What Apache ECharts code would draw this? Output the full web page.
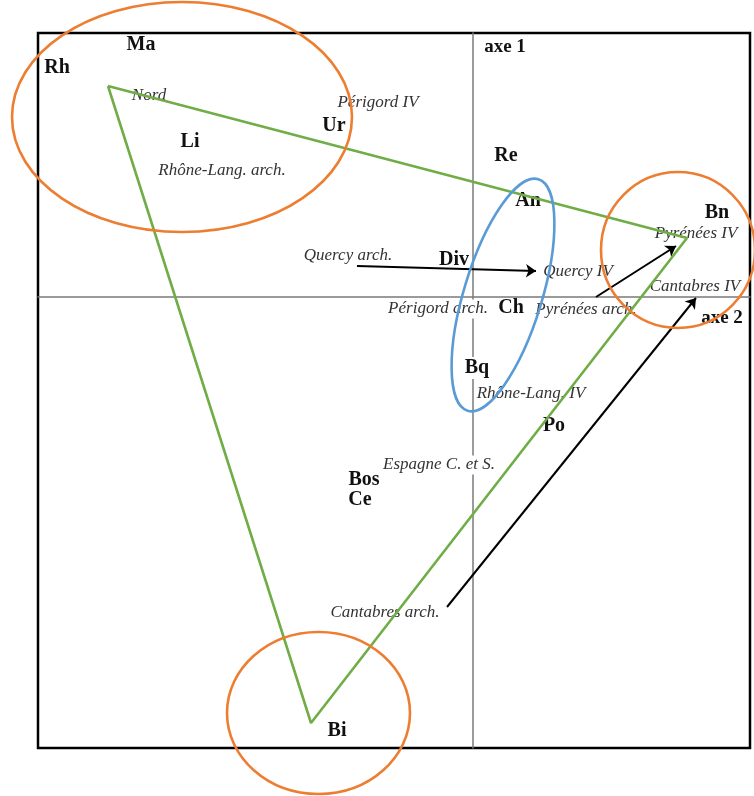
<!DOCTYPE html>
<html>
<head>
<meta charset="utf-8">
<script src="https://cdn.jsdelivr.net/npm/echarts@6/dist/echarts.min.js"></script>
<style>html,body{margin:0;padding:0;background:#fff}#c{width:754px;height:796px}</style>
</head>
<body>
<div id="c"></div>
<script>
// Species (bold) labels
const speciesNames = ['Ma','Rh','Li','Ur','Re','An','Bn','Div','Ch','Bq','Po','Bos','Ce','Bi'];
const speciesX = [-3.32,-4.16,-2.83,-1.39,0.33,0.55,2.44,-0.19,0.38,0.04,0.81,-1.09,-1.13,-1.36];
const speciesY = [2.52,2.29,1.55,1.71,1.41,0.96,0.84,0.37,-0.11,-0.71,-1.29,-1.83,-2.03,-4.34];

// Regions / periods (italic) labels
const regionNames = ['Nord','Périgord IV','Rhône-Lang. arch.','Pyrénées IV','Quercy arch.','Quercy IV','Cantabres IV','Périgord arch.','Pyrénées arch.','Rhône-Lang. IV','Espagne C. et S.','Cantabres arch.'];
const regionX = [-3.24,-0.95,-2.51,2.23,-1.25,1.05,2.22,-0.35,1.13,0.58,-0.34,-0.88];
const regionY = [2.01,1.94,1.26,0.63,0.41,0.25,0.10,-0.12,-0.13,-0.97,-1.68,-3.16];

// Axis titles
const axisNames = ['axe 1','axe 2'];
const axisX = [0.32,2.49];
const axisY = [2.50,-0.21];

// Green triangle vertices
const triX = [-3.65,2.14,-1.62,-3.65];
const triY = [2.11,0.59,-4.26,2.11];

// Arrows: from -> to
const arrowFromX = [-1.16,1.23,-0.26];
const arrowFromY = [0.31,0.00,-3.10];
const arrowToX = [0.63,2.03,2.23];
const arrowToY = [0.26,0.51,-0.01];

// Orange ellipses: center, radii
const orangeCX = [-2.91,2.05,-1.545];
const orangeCY = [1.80,0.47,-4.16];
const orangeRX = [1.70,0.77,0.915];
const orangeRY = [1.15,0.78,0.81];
// Blue ellipse (rotation in degrees, negative = clockwise)
const blueCX = [0.30], blueCY = [0.02], blueRX = [0.39], blueRY = [1.21], blueRot = [-17];

const bgLabels = ['Périgord arch.','Espagne C. et S.','Bq'];

const FONT = 'Liberation Serif';

function ellipseSeries(cx, cy, rx, ry, rot, color){
  return {
    type:'custom', coordinateSystem:'cartesian2d', clip:false, z:4, silent:true,
    encode:{x:0,y:1},
    data: cx.map((v,i)=>[v, cy[i], rx[i], ry[i], rot ? rot[i] : 0]),
    renderItem(params, api){
      const c = api.coord([api.value(0), api.value(1)]);
      const s = api.size([api.value(2), api.value(3)]);
      return {
        type:'ellipse', x:c[0], y:c[1], rotation: api.value(4)*Math.PI/180,
        shape:{cx:0, cy:0, rx:s[0], ry:s[1]},
        style:{fill:'none', stroke:color, lineWidth:2.6}
      };
    }
  };
}

function labelSeries(names, xs, ys, style){
  return {
    type:'scatter', z:1, silent:true, symbolSize:1, itemStyle:{color:'rgba(0,0,0,0)', opacity:1},
    data: names.map((n,i)=>({
      name:n, value:[xs[i], ys[i]],
      label: bgLabels.indexOf(n) >= 0 ? {backgroundColor:'#fff', padding:[1,1]} : {}
    })),
    label: Object.assign({show:true, position:'inside', formatter:'{b}', fontFamily:FONT, textBorderWidth:0}, style)
  };
}

const chart = echarts.init(document.getElementById('c'), null, {renderer:'canvas'});
chart.setOption({
  animation:false,
  backgroundColor:'#fff',
  grid:{left:38, top:33, width:712, height:715, show:true, borderColor:'#000', borderWidth:2.5, backgroundColor:'transparent'},
  xAxis:{type:'value', min:-4.35, max:2.77, splitLine:{show:false}, axisTick:{show:false}, axisLabel:{show:false},
    axisLine:{show:true, onZero:true, lineStyle:{color:'#7a7a7a', width:1.5}}},
  yAxis:{type:'value', min:-4.51, max:2.64, splitLine:{show:false}, axisTick:{show:false}, axisLabel:{show:false},
    axisLine:{show:true, onZero:true, lineStyle:{color:'#7a7a7a', width:1.5}}},
  series:[
    labelSeries(speciesNames, speciesX, speciesY, {fontSize:20, fontWeight:'bold', color:'#111'}),
    labelSeries(regionNames, regionX, regionY, {fontSize:17, fontStyle:'italic', color:'#333'}),
    labelSeries(axisNames, axisX, axisY, {fontSize:19, fontWeight:'bold', color:'#111'}),
    {
      type:'line', z:3, silent:true, symbol:'none',
      data: triX.map((v,i)=>[v, triY[i]]),
      lineStyle:{color:'#70AD47', width:2.6}
    },
    {
      type:'lines', coordinateSystem:'cartesian2d', z:3, silent:true,
      symbol:['none','arrow'], symbolSize:10,
      data: arrowFromX.map((v,i)=>({coords:[[v, arrowFromY[i]],[arrowToX[i], arrowToY[i]]]})),
      lineStyle:{color:'#000', width:2, opacity:1}
    },
    ellipseSeries(orangeCX, orangeCY, orangeRX, orangeRY, null, '#ED7D31'),
    ellipseSeries(blueCX, blueCY, blueRX, blueRY, blueRot, '#5B9BD5')
  ]
});
</script>
</body>
</html>
